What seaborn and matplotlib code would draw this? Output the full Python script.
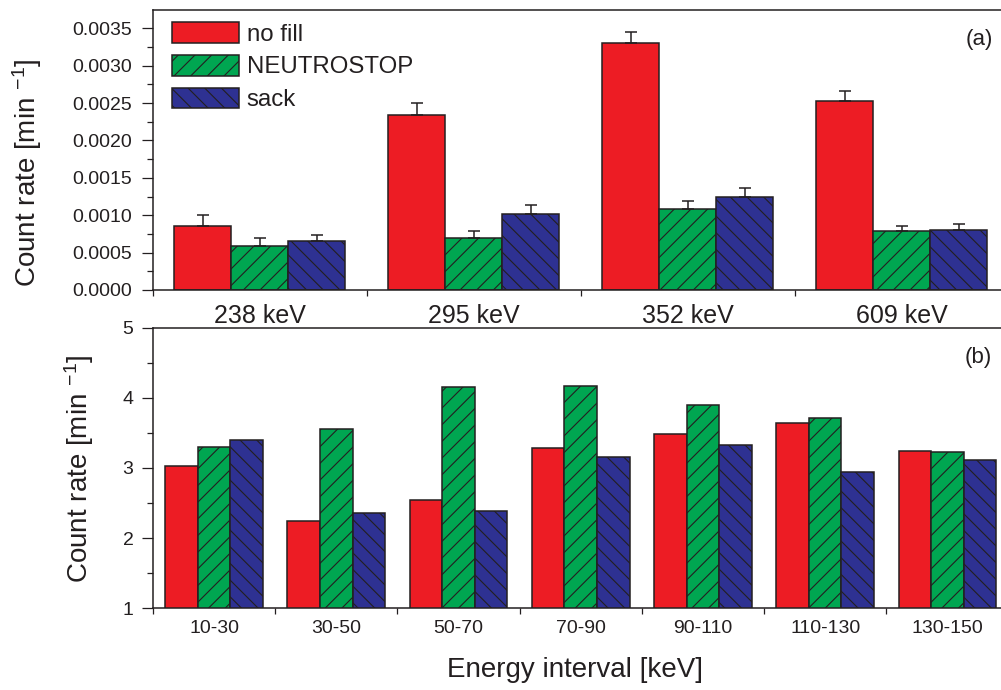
import matplotlib
matplotlib.use("Agg")
import matplotlib.pyplot as plt
import numpy as np
import pandas as pd
import seaborn as sns
from matplotlib.ticker import FixedLocator, MultipleLocator, FormatStrFormatter

# ---------------- data ----------------
samples = ["no fill", "NEUTROSTOP", "sack"]

energies = ["238 keV", "295 keV", "352 keV", "609 keV"]
nofill_a = [0.00085, 0.00234, 0.00331, 0.00253]
neutro_a = [0.00059, 0.00069, 0.00109, 0.00079]
sack_a = [0.00065, 0.00101, 0.00124, 0.00080]
err_nofill_a = [0.000155, 0.000155, 0.000147, 0.000130]
err_neutro_a = [0.000100, 0.000094, 0.000094, 0.000070]
err_sack_a = [0.000085, 0.000130, 0.000130, 0.000085]

intervals = ["10-30", "30-50", "50-70", "70-90", "90-110", "110-130", "130-150"]
nofill_b = [3.03, 2.25, 2.54, 3.28, 3.49, 3.64, 3.24]
neutro_b = [3.30, 3.56, 4.16, 4.17, 3.90, 3.71, 3.23]
sack_b = [3.40, 2.36, 2.39, 3.16, 3.33, 2.94, 3.12]

colors = ["#ED1C24", "#00A651", "#2E3192"]
hatches = ["", "//", "\\\\"]
ink = "#231F20"

# ---------------- style ----------------
sns.set_theme(style="ticks")
plt.rcParams["font.family"] = ["Liberation Sans", "DejaVu Sans"]
plt.rcParams["mathtext.fontset"] = "custom"
plt.rcParams["mathtext.rm"] = "Liberation Sans"
plt.rcParams["mathtext.it"] = "Liberation Sans:italic"
plt.rcParams["mathtext.default"] = "regular"
plt.rcParams["hatch.linewidth"] = 0.8
plt.rcParams["hatch.color"] = ink
plt.rcParams["text.color"] = ink
plt.rcParams["axes.labelcolor"] = ink
plt.rcParams["xtick.color"] = ink
plt.rcParams["ytick.color"] = ink
plt.rcParams["xtick.labelsize"] = 14
plt.rcParams["ytick.labelsize"] = 14

df_a = pd.DataFrame({
    "cat": energies * 3,
    "rate": nofill_a + neutro_a + sack_a,
    "sample": [s for s in samples for _ in energies],
})
errs_a = [err_nofill_a, err_neutro_a, err_sack_a]

df_b = pd.DataFrame({
    "cat": intervals * 3,
    "rate": nofill_b + neutro_b + sack_b,
    "sample": [s for s in samples for _ in intervals],
})

W, H = 1001, 690
fig = plt.figure(figsize=(W / 100, H / 100), dpi=100)
ax_a = fig.add_axes([153 / W, 1 - 290 / H, 855.5 / W, 280 / H])
ax_b = fig.add_axes([153 / W, 1 - 608.3 / H, 855.5 / W, 280.6 / H])


def draw(ax, df, order):
    sns.barplot(data=df, x="cat", y="rate", hue="sample", order=order,
                hue_order=samples, palette=colors, saturation=1,
                errorbar=None, edgecolor=ink, linewidth=1.1, width=0.8,
                legend=False, ax=ax)
    bars = list(ax.containers)
    for cont, h in zip(bars, hatches):
        for p in cont.patches:
            p.set_hatch(h)
            p.set_edgecolor(ink)
    n = len(order)
    ax.set_xlim(-0.5, n - 0.5)
    ax.xaxis.set_minor_locator(FixedLocator(np.arange(n + 1) - 0.5))
    ax.tick_params(axis="x", which="major", length=0)
    ax.tick_params(axis="x", which="minor", length=4.3, width=0.9, direction="out")
    ax.tick_params(axis="y", which="major", length=8, width=0.9, direction="out", labelsize=14)
    ax.tick_params(axis="y", which="minor", length=4.3, width=0.9, direction="out")
    for s in ax.spines.values():
        s.set_visible(True)
        s.set_color(ink)
        s.set_linewidth(1.1)
    ax.set_xlabel("")
    ax.set_ylabel("Count rate [min $^{-1}$]", fontsize=20)
    return bars


# ----- panel (a)
bars_a = draw(ax_a, df_a, energies)
for cont, err in zip(bars_a, errs_a):
    xs = [p.get_x() + p.get_width() / 2 for p in cont.patches]
    ys = [p.get_height() for p in cont.patches]
    ax_a.errorbar(xs, ys, yerr=[np.zeros(len(err)), err], fmt="none",
                  ecolor=ink, elinewidth=1.1, capsize=4.2, capthick=1.1, zorder=5)
ax_a.set_ylim(0, 0.003745)
ax_a.yaxis.set_major_locator(MultipleLocator(0.0005))
ax_a.yaxis.set_minor_locator(MultipleLocator(0.00025))
ax_a.yaxis.set_major_formatter(FormatStrFormatter("%.4f"))
ax_a.tick_params(axis="x", which="major", labelsize=18, pad=10.4)
ax_a.tick_params(axis="y", which="major", pad=7)
ax_a.yaxis.set_label_coords(-0.127, 0.42)
ax_a.text(0.982, 0.896, "(a)", transform=ax_a.transAxes, ha="right",
          va="center", fontsize=16)
handles = [c.patches[0] for c in bars_a]
ax_a.legend(handles, samples, loc="upper left", bbox_to_anchor=(0.0219, 0.957),
            frameon=False, fontsize=17.3, handlelength=2.82, handleheight=0.95,
            handletextpad=0.3, labelspacing=0.38, borderpad=0, borderaxespad=0)

# ----- panel (b)
draw(ax_b, df_b, intervals)
ax_b.set_ylim(1, 5)
ax_b.yaxis.set_major_locator(MultipleLocator(1))
ax_b.yaxis.set_minor_locator(MultipleLocator(0.5))
ax_b.tick_params(axis="x", which="major", labelsize=14, pad=8.1)
ax_b.tick_params(axis="y", which="major", pad=6)
ax_b.yaxis.set_label_coords(-0.0666, 0.496)
ax_b.set_xlabel("Energy interval [keV]", fontsize=20)
ax_b.xaxis.set_label_coords(0.493, -0.174)
ax_b.text(0.980, 0.894, "(b)", transform=ax_b.transAxes, ha="right",
          va="center", fontsize=16)

fig.savefig("out.png", dpi=100)
